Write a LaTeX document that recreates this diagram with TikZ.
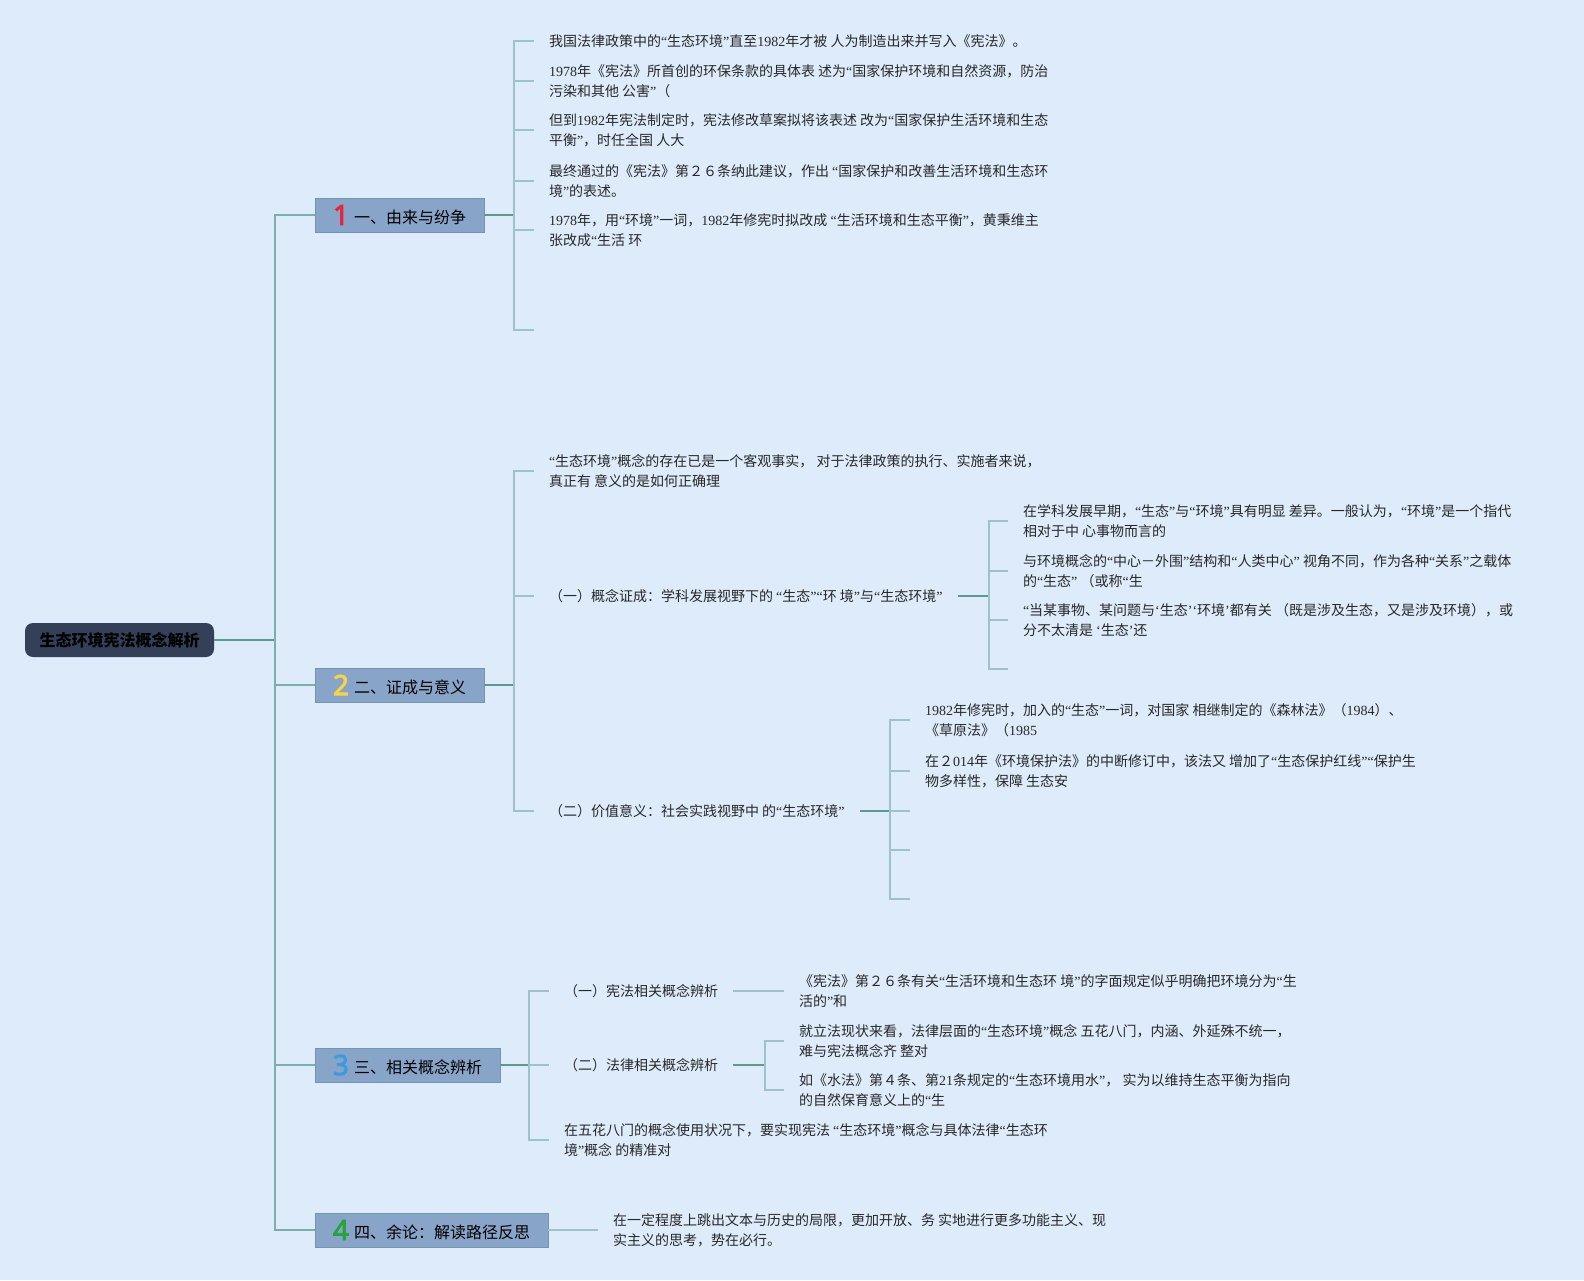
\documentclass[tikz,border=0pt]{standalone}
\usepackage{fontspec}
\setmainfont{Noto Sans CJK SC}
\newfontfamily\serf{Liberation Serif}
\newfontfamily\numf{Noto Sans}[FakeBold=3]
\newcommand\dg[1]{{\serf #1}}
\newcommand\oq{{\serf “}}
\newcommand\cq{{\serf ”}}
\newcommand\osq{{\serf ‘}}
\newcommand\csq{{\serf ’}}
\definecolor{bg}{RGB}{221,235,250}
\definecolor{rootc}{RGB}{52,64,88}
\definecolor{bfill}{RGB}{136,164,200}
\definecolor{bbd}{RGB}{112,150,178}
\definecolor{ldk}{RGB}{94,153,144}
\definecolor{lmid}{RGB}{122,176,172}
\definecolor{llt}{RGB}{156,195,201}
\definecolor{txt}{RGB}{40,40,40}
\definecolor{nred}{RGB}{232,38,59}
\definecolor{nyel}{RGB}{245,213,71}
\definecolor{nblue}{RGB}{59,155,224}
\definecolor{ngreen}{RGB}{38,163,59}
\newcommand\bnum[2]{\raisebox{-1.5pt}{\textcolor{#1}{\numf\fontsize{28}{28}\selectfont #2}}\hspace{5pt}}
\begin{document}
\begin{tikzpicture}[x=1pt,y=-1pt,
  every node/.style={inner sep=0pt,outer sep=0pt},
  leaf/.style={anchor=west,align=left,inner xsep=15pt,inner ysep=0pt,font=\fontsize{14}{20.2}\selectfont,text=txt},
  branch/.style={draw=bbd,fill=bfill,line width=1pt,minimum height=34pt,font=\fontsize{16}{18}\selectfont,text=black},
  dk/.style={draw=ldk,line width=1.7pt},
  tk/.style={draw=lmid,line width=1.7pt},
  lt/.style={draw=llt,line width=1.7pt}]
\fill[bg] (0,0) rectangle (1584,1280);
\useasboundingbox (0,0) rectangle (1584,1280);

% root and branches
\node[fill=rootc,rounded corners=8pt,minimum width=189pt,minimum height=34pt,font=\fontsize{16}{18}\selectfont\bfseries,text=black] (root) at (119.5,640) {生态环境宪法概念解析};
\node[branch,minimum width=169pt] (n1) at (399.5,215) {\bnum{nred}{1}一、由来与纷争};
\node[branch,minimum width=169pt] (n2) at (399.5,685) {\bnum{nyel}{2}二、证成与意义};
\node[branch,minimum width=185pt] (n3) at (407.5,1065) {\bnum{nblue}{3}三、相关概念辨析};
\node[branch,minimum width=233pt] (n4) at (431.5,1230) {\bnum{ngreen}{4}四、余论：解读路径反思};

\coordinate (t) at (275,640);
\draw[dk] (root.east) -- (t);
\draw[tk] (n1.west) -- (n1.west -| t) -- (n4.west -| t) -- (n4.west);
\draw[tk] (n2.west) -- (n2.west -| t);
\draw[tk] (n3.west) -- (n3.west -| t);

% branch 1
\node[leaf] (c11) at (534,41) {我国法律政策中的\oq 生态环境\cq 直至\dg{1982}年才被 人为制造出来并写入《宪法》。};
\node[leaf] (c12) at (534,81) {\dg{1978}年《宪法》所首创的环保条款的具体表 述为\oq 国家保护环境和自然资源，防治\\污染和其他 公害\cq（};
\node[leaf] (c13) at (534,130) {但到\dg{1982}年宪法制定时，宪法修改草案拟将该表述 改为\oq 国家保护生活环境和生态\\平衡\cq，时任全国 人大};
\node[leaf] (c14) at (534,181) {最终通过的《宪法》第２６条纳此建议，作出 \oq 国家保护和改善生活环境和生态环\\境\cq 的表述。};
\node[leaf] (c15) at (534,230) {\dg{1978}年，用\oq 环境\cq 一词，\dg{1982}年修宪时拟改成 \oq 生活环境和生态平衡\cq，黄秉维主\\张改成\oq 生活 环};
\coordinate (c16) at (534,330);
\coordinate (b1) at (514,215);
\draw[dk] (n1.east) -- (b1);
\foreach \c in {c11,c12,c13,c14,c15} \draw[lt] (b1) |- (\c.west);
\draw[lt] (b1) |- (c16);

% branch 2
\node[leaf] (c21) at (534,471) {\oq 生态环境\cq 概念的存在已是一个客观事实， 对于法律政策的执行、实施者来说，\\真正有 意义的是如何正确理};
\node[leaf] (c22) at (534,596) {（一）概念证成：学科发展视野下的 \oq 生态\cq\oq 环 境\cq 与\oq 生态环境\cq};
\node[leaf] (c23) at (534,811) {（二）价值意义：社会实践视野中 的\oq 生态环境\cq};
\coordinate (b2) at (514,685);
\draw[dk] (n2.east) -- (b2);
\foreach \c in {c21,c22,c23} \draw[lt] (b2) |- (\c.west);

\node[leaf] (c221) at (1008,521) {在学科发展早期，\oq 生态\cq 与\oq 环境\cq 具有明显 差异。一般认为，\oq 环境\cq 是一个指代\\相对于中 心事物而言的};
\node[leaf] (c222) at (1008,571) {与环境概念的\oq 中心－外围\cq 结构和\oq 人类中心\cq\ 视角不同，作为各种\oq 关系\cq 之载体\\的\oq 生态\cq\ （或称\oq 生};
\node[leaf] (c223) at (1008,620) {\oq 当某事物、某问题与\osq 生态\csq\osq 环境\csq 都有关 （既是涉及生态，又是涉及环境），或\\分不太清是 \osq 生态\csq 还};
\coordinate (c224) at (1008,669);
\coordinate (b22) at (989,596);
\draw[dk] (c22.east) -- (b22);
\foreach \c in {c221,c222,c223} \draw[lt] (b22) |- (\c.west);
\draw[lt] (b22) |- (c224);

\node[leaf] (c231) at (910,720) {\dg{1982}年修宪时，加入的\oq 生态\cq 一词，对国家 相继制定的《森林法》（\dg{1984}）、\\《草原法》（\dg{1985}};
\node[leaf] (c232) at (910,771) {在２\dg{014}年《环境保护法》的中断修订中，该法又 增加了\oq 生态保护红线\cq\oq 保护生\\物多样性，保障 生态安};
\coordinate (c233) at (910,811);
\coordinate (c234) at (910,850);
\coordinate (c235) at (910,899);
\coordinate (b23) at (890,811);
\draw[dk] (c23.east) -- (b23);
\foreach \c in {c231,c232} \draw[lt] (b23) |- (\c.west);
\foreach \c in {c233,c234,c235} \draw[lt] (b23) |- (\c);

% branch 3
\node[leaf] (c31) at (549,991) {（一）宪法相关概念辨析};
\node[leaf] (c32) at (549,1065) {（二）法律相关概念辨析};
\node[leaf] (c33) at (549,1140) {在五花八门的概念使用状况下，要实现宪法 \oq 生态环境\cq 概念与具体法律\oq 生态环\\境\cq 概念 的精准对};
\coordinate (b3) at (529,1065);
\draw[dk] (n3.east) -- (b3);
\foreach \c in {c31,c32,c33} \draw[lt] (b3) |- (\c.west);

\node[leaf] (c311) at (784,991) {《宪法》第２６条有关\oq 生活环境和生态环 境\cq 的字面规定似乎明确把环境分为\oq 生\\活的\cq 和};
\draw[lt] (c31.east) -- (c311.west);

\node[leaf] (c321) at (784,1041) {就立法现状来看，法律层面的\oq 生态环境\cq 概念 五花八门，内涵、外延殊不统一，\\难与宪法概念齐 整对};
\node[leaf] (c322) at (784,1090) {如《水法》第４条、第\dg{21}条规定的\oq 生态环境用水\cq， 实为以维持生态平衡为指向\\的自然保育意义上的\oq 生};
\coordinate (b32) at (765,1065);
\draw[dk] (c32.east) -- (b32);
\foreach \c in {c321,c322} \draw[lt] (b32) |- (\c.west);

% branch 4
\node[leaf] (c41) at (598,1230) {在一定程度上跳出文本与历史的局限，更加开放、务 实地进行更多功能主义、现\\实主义的思考，势在必行。};
\draw[lt] (n4.east) -- (c41.west);
\end{tikzpicture}
\end{document}
